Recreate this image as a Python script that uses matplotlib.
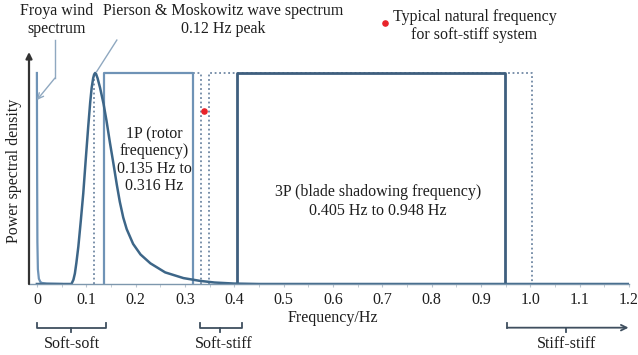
import matplotlib.pyplot as plt
import numpy as np

plt.rcParams['font.family'] = ['Liberation Serif', 'DejaVu Serif']

# Pierson & Moskowitz wave spectrum (normalised to peak)
pm_freq = [0.0, 0.060, 0.070, 0.074, 0.077, 0.080, 0.084, 0.089, 0.094, 0.099,
           0.104, 0.108, 0.111, 0.114, 0.116, 0.118, 0.120, 0.123, 0.128, 0.135,
           0.141, 0.148, 0.155, 0.162, 0.168, 0.175, 0.182, 0.195, 0.210, 0.230,
           0.260, 0.297, 0.330, 0.360, 0.400, 0.450, 1.200]
pm_psd = [0.0, 0.0, 0.0, 0.02, 0.05, 0.10, 0.177, 0.30, 0.43, 0.59,
          0.745, 0.86, 0.93, 0.975, 0.993, 1.0, 0.995, 0.975, 0.93, 0.855,
          0.775, 0.67, 0.572, 0.47, 0.39, 0.315, 0.26, 0.19, 0.14, 0.098,
          0.055, 0.028, 0.015, 0.007, 0.002, 0.0, 0.0]

# Froya wind spectrum
froya_freq = [0.0, 0.0005, 0.001, 0.002, 0.004, 0.007, 0.010, 0.020, 0.050]
froya_psd = [1.0, 0.5, 0.2, 0.07, 0.025, 0.01, 0.005, 0.002, 0.0]

# frequency bands
band_1p = (0.135, 0.316)
band_1p_margin = (0.115, 0.333)
band_3p = (0.405, 0.948)
band_3p_margin = (0.349, 1.003)

# typical natural frequency of a soft-stiff system
nat_freq = 0.339
nat_psd = 0.82

xticks = [0, 0.1, 0.2, 0.3, 0.4, 0.5, 0.6, 0.7, 0.8, 0.9, 1.0, 1.1, 1.2]
xtick_labels = ['0', '0.1', '0.2', '0.3', '0.4', '0.5', '0.6', '0.7', '0.8',
                '0.9', '1.0', '1.1', '1.2']

c_curve = '#3d6688'
c_1p = '#6f93b6'
c_3p = '#3f5f7e'
c_dot = '#7088a4'
c_text = '#1e1e1e'
c_brace = '#3f4f5f'
fs = 11.5

fig = plt.figure(figsize=(6.38, 3.55), dpi=100)
ax = fig.add_axes([29 / 638, 71 / 355, 600 / 638, 232 / 355])
ax.set_xlim(-0.016, 1.2)
ax.set_ylim(0, 1.0995)

for s in ['top', 'right', 'left']:
    ax.spines[s].set_visible(False)
ax.spines['bottom'].set_color('#7d97ad')
ax.spines['bottom'].set_linewidth(1.0)

# y axis drawn as arrow
ax.annotate('', xy=(-0.016, 1.0995), xytext=(-0.016, 0),
            xycoords='data', annotation_clip=False,
            arrowprops=dict(arrowstyle='-|>', color='#333333', lw=1.6,
                            mutation_scale=9, shrinkA=0, shrinkB=0))

ax.set_xticks(xticks)
ax.set_xticklabels(xtick_labels, fontsize=fs, color=c_text)
ax.set_xticks(np.arange(0.05, 1.2, 0.1), minor=True)
ax.tick_params(axis='x', which='both', direction='out', length=2.5,
               color='#b8c4cf', pad=3)
ax.set_yticks([])

# dotted margin boxes
d_kw = dict(color=c_dot, lw=1.3, ls=(0, (1, 1.5)))
ax.plot([band_1p_margin[0]] * 2, [0, 1], **d_kw)
ax.plot([band_1p_margin[1]] * 2, [0, 1], **d_kw)
ax.plot([band_1p[1], band_1p_margin[1]], [1, 1], **d_kw)
ax.plot([band_3p_margin[0], band_3p_margin[0], band_3p_margin[1], band_3p_margin[1]],
        [0, 1, 1, 0], **d_kw)

# solid band boxes
ax.plot([band_1p[0], band_1p[0], band_1p[1], band_1p[1]], [0, 1, 1, 0],
        color=c_1p, lw=1.6)
ax.plot([band_3p[0], band_3p[0], band_3p[1], band_3p[1]], [0, 1, 1, 0],
        color=c_3p, lw=2.0)

# spectra
ax.plot(froya_freq, froya_psd, color=c_1p, lw=1.6)
ax.plot(pm_freq, pm_psd, color=c_curve, lw=1.8, solid_joinstyle='round')

ax.scatter([nat_freq], [nat_psd], s=14, color='#e8232a', zorder=5)

# band labels
ax.text(0.238, 0.588, '1P (rotor\nfrequency)\n0.135 Hz to\n0.316 Hz',
        ha='center', va='center', fontsize=fs, color=c_text, linespacing=1.1)
ax.text(0.691, 0.389, '3P (blade shadowing frequency)\n0.405 Hz to 0.948 Hz',
        ha='center', va='center', fontsize=fs, color=c_text, linespacing=1.25)

# spectrum labels with leader lines
ax.text(0.0405, 1.251, 'Froya wind\nspectrum', ha='center', va='center',
        fontsize=fs, color=c_text, linespacing=1.1)
ax.plot([0.0365, 0.0365], [1.156, 0.976], color='#8fa8c0', lw=1.0, clip_on=False)
ax.annotate('', xy=(0.0, 0.872), xytext=(0.0365, 0.976),
            annotation_clip=False,
            arrowprops=dict(arrowstyle='->', color='#8fa8c0', lw=1.0,
                            shrinkA=0, shrinkB=0))
ax.text(0.378, 1.251, 'Pierson & Moskowitz wave spectrum\n0.12 Hz peak',
        ha='center', va='center', fontsize=fs, color=c_text, linespacing=1.1)
ax.plot([0.162, 0.121], [1.156, 1.006], color='#8fa8c0', lw=1.0, clip_on=False)

# legend for the natural frequency
ax.scatter([0.706], [1.237], s=14, color='#e8232a', clip_on=False)
ax.text(0.887, 1.223, 'Typical natural frequency\nfor soft-stiff system',
        ha='center', va='center', fontsize=fs, color=c_text, linespacing=1.1)

ax.text(-0.047, 0.535, 'Power spectral density', rotation=90, ha='center',
        va='center', fontsize=fs, color=c_text)
ax.text(0.600, -0.163, 'Frequency/Hz', ha='center', va='center', fontsize=fs,
        color=c_text)


def brace(x0, x1, xm, label, lx):
    ax.plot([x0, x0, x1, x1], [-0.185, -0.207, -0.207, -0.185], color=c_brace,
            lw=1.3, clip_on=False)
    ax.plot([xm, xm], [-0.207, -0.226], color=c_brace, lw=1.3, clip_on=False)
    ax.text(lx, -0.283, label, ha='center', va='center', fontsize=fs,
            color=c_text)


brace(0.0, 0.140, 0.069, 'Soft-soft', 0.071)
brace(0.331, 0.415, 0.371, 'Soft-stiff', 0.378)

# stiff-stiff with arrow
ax.plot([0.953, 0.953], [-0.183, -0.207], color=c_brace, lw=1.3, clip_on=False)
ax.annotate('', xy=(1.199, -0.207), xytext=(0.953, -0.207),
            annotation_clip=False,
            arrowprops=dict(arrowstyle='->', color=c_brace, lw=1.3,
                            shrinkA=0, shrinkB=0))
ax.plot([1.073, 1.073], [-0.207, -0.226], color=c_brace, lw=1.3, clip_on=False)
ax.text(1.073, -0.283, 'Stiff-stiff', ha='center', va='center', fontsize=fs,
        color=c_text)

fig.savefig('out.png', dpi=100)
